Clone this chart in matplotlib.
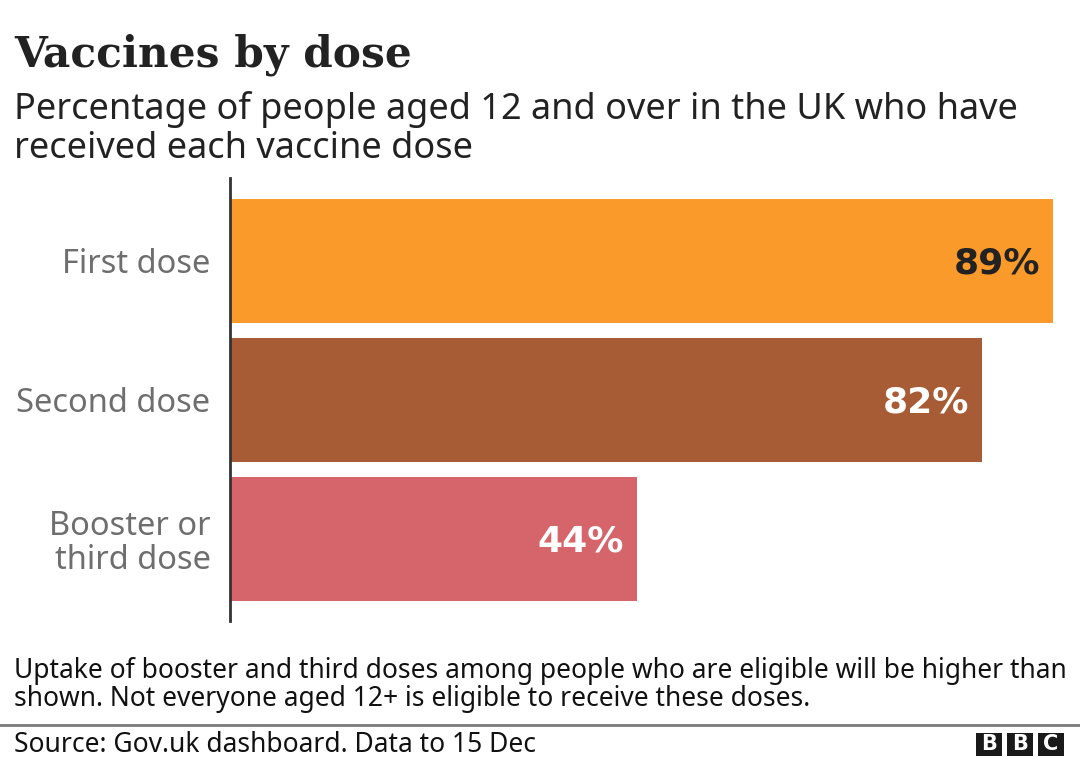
import matplotlib
matplotlib.use("Agg")
import matplotlib.pyplot as plt
from matplotlib.patches import Rectangle

categories = ["First dose", "Second dose", "Booster or\nthird dose"]
# bar lengths; labels as printed
values = [89, 81.3, 44]
value_labels = ["89%", "82%", "44%"]
bar_colors = ["#fa9a2b", "#a85c35", "#d5656a"]
label_colors = ["#222222", "white", "white"]

W, H = 1080, 760


def fx(px):
    return px / W


def fy(py):
    return 1 - py / H


plt.rcParams["font.family"] = ["Noto Sans", "DejaVu Sans"]

fig = plt.figure(figsize=(10.8, 7.6), dpi=100)
fig.patch.set_facecolor("white")

# axes placed so the spine sits at x=230 and the longest bar ends at x=1053
ax = fig.add_axes([fx(230), fy(621), fx(1053) - fx(230), fy(178) - fy(621)])
ypos = list(range(len(categories)))
ax.barh(ypos, values, height=0.892, color=bar_colors)
ax.set_xlim(0, 89)
ax.set_ylim(2.59, -0.597)

for y, v, lab, c in zip(ypos, values, value_labels, label_colors):
    ax.text(v - 1.4, y + 0.02, lab, ha="right", va="center", fontsize=26,
            family="DejaVu Sans", fontweight="bold", color=c)

ax.set_yticks(ypos)
ax.set_yticklabels(categories, fontsize=23.5, color="#6e6e6e", linespacing=1.05)
ax.tick_params(axis="y", length=0, pad=14)
ax.set_xticks([])
for s in ["top", "right", "bottom"]:
    ax.spines[s].set_visible(False)
ax.spines["left"].set_color("#333333")
ax.spines["left"].set_linewidth(2)

# titles
fig.text(fx(14), fy(66), "Vaccines by dose", family="DejaVu Serif",
         fontweight="bold", fontsize=30.4, color="#222222", va="baseline")
fig.text(fx(14), fy(119), "Percentage of people aged 12 and over in the UK who have",
         fontsize=26, color="#222222", va="baseline")
fig.text(fx(14), fy(158), "received each vaccine dose",
         fontsize=26, color="#222222", va="baseline")

# footnote
fig.text(fx(14), fy(678),
         "Uptake of booster and third doses among people who are eligible will be higher than",
         fontsize=19, color="#111111", va="baseline")
fig.text(fx(14), fy(706),
         "shown. Not everyone aged 12+ is eligible to receive these doses.",
         fontsize=19, color="#111111", va="baseline")

# separator and source
fig.add_artist(plt.Line2D([0, 1], [fy(725), fy(725)], color="#7a7a7a", lw=2))
fig.text(fx(14), fy(752), "Source: Gov.uk dashboard. Data to 15 Dec",
         fontsize=19, color="#111111", va="baseline")

# BBC logo
for i, letter in enumerate("BBC"):
    x0 = 976 + i * 31
    fig.add_artist(Rectangle((fx(x0), fy(756)), fx(26), 23 / H,
                             facecolor="#1a1a1a", edgecolor="none"))
    fig.text(fx(x0 + 13), fy(744.5), letter, ha="center", va="center",
             fontsize=15, family="DejaVu Sans", fontweight="bold", color="white")

fig.savefig("out.png", dpi=100)
